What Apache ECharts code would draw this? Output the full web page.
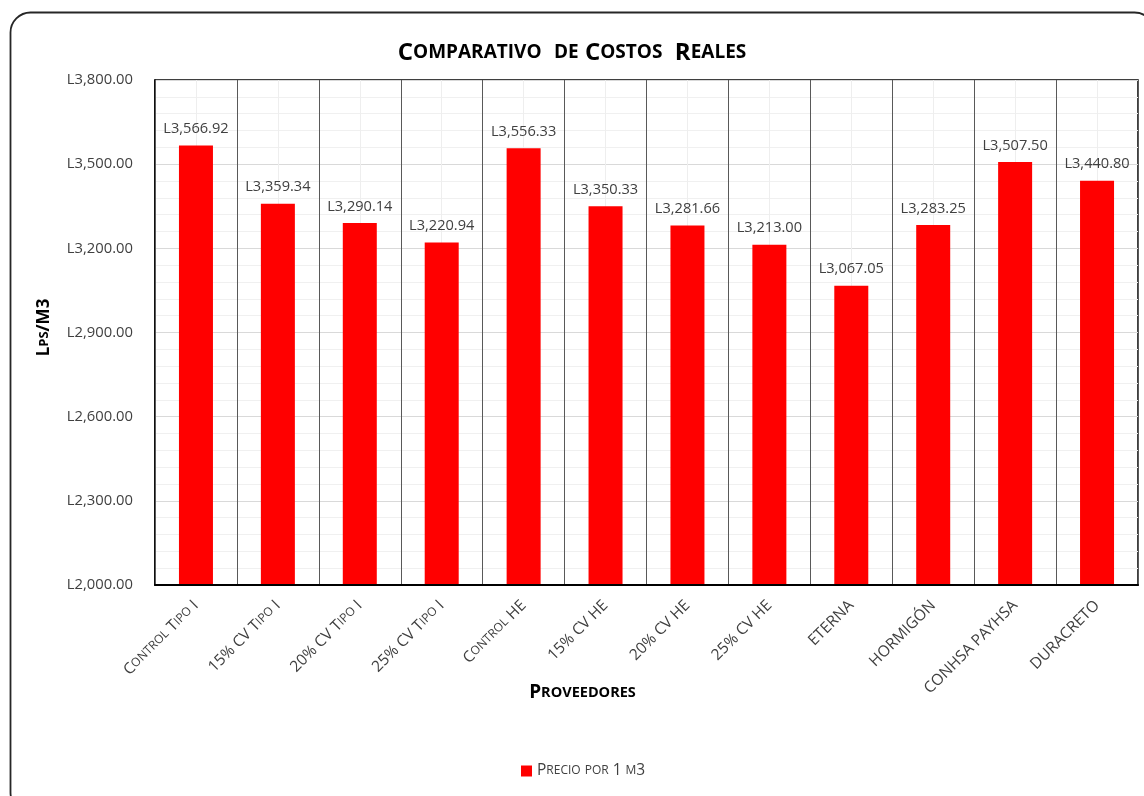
<!DOCTYPE html>
<html>
<head>
<meta charset="utf-8">
<script src="https://cdn.jsdelivr.net/npm/echarts@6/dist/echarts.min.js"></script>
<style>
html,body{margin:0;padding:0;background:#fff;}
#chart{width:1144px;height:796px;}
</style>
</head>
<body>
<div id="chart"></div>
<script>
const titleText = 'Comparativo  de Costos  Reales';
const xAxisTitle = 'Proveedores';
const yAxisTitle = 'Lps/M3';
const seriesName = 'Precio por 1 m3';
const categories = ['Control Tipo I', '15% CV Tipo I', '20% CV Tipo I', '25% CV Tipo I', 'Control HE', '15% CV HE', '20% CV HE', '25% CV HE', 'ETERNA', 'HORMIGÓN', 'CONHSA PAYHSA', 'DURACRETO'];
const values = [3566.92, 3359.34, 3290.14, 3220.94, 3556.33, 3350.33, 3281.66, 3213.00, 3067.05, 3283.25, 3507.50, 3440.80];
const yMin = 2000, yMax = 3800, yStep = 300;

const FONT = '"Open Sans", "Noto Sans", sans-serif';

// small caps via rich text: lowercase letters become smaller uppercase
function smallCaps(str) {
  let out = '';
  let cur = null, buf = '';
  for (const ch of str) {
    const isLower = ch !== ch.toUpperCase();
    const st = isLower ? 's' : 'b';
    if (cur !== null && st !== cur) { out += '{' + cur + '|' + buf + '}'; buf = ''; }
    cur = st; buf += isLower ? ch.toUpperCase() : ch;
  }
  if (buf) out += '{' + cur + '|' + buf + '}';
  return out;
}
function money(v) {
  const parts = v.toFixed(2).split('.');
  parts[0] = parts[0].replace(/\B(?=(\d{3})+(?!\d))/g, ',');
  return 'L' + parts.join('.');
}
function rich(big, small, weight, color) {
  return {
    b: {fontSize: big, fontFamily: FONT, fontWeight: weight, color: color},
    s: {fontSize: small, fontFamily: FONT, fontWeight: weight, color: color}
  };
}

const chart = echarts.init(document.getElementById('chart'), null, {renderer: 'canvas'});
chart.setOption({
  backgroundColor: '#fff',
  animation: false,
  graphic: [{
    type: 'rect', left: 8, top: 10, z: -10,
    shape: {width: 1144, height: 800, r: 20},
    style: {fill: 'none', stroke: '#262626', lineWidth: 1.8}
  }],
  title: {
    text: smallCaps(titleText), left: 'center', top: 36,
    textStyle: {rich: rich(24, 19, 'bold', '#000')}
  },
  legend: {
    bottom: 12, left: 516, itemWidth: 11, itemHeight: 11, icon: 'rect', itemGap: 4,
    formatter: function (n) { return smallCaps(n); },
    textStyle: {rich: rich(15.5, 12, 'normal', '#404040')}
  },
  grid: {left: 155, right: 6, top: 80, bottom: 211, show: true, borderColor: '#000', borderWidth: 1.5, containLabel: false},
  xAxis: [{
    type: 'category', data: categories, boundaryGap: true, z: 3,
    name: smallCaps(xAxisTitle), nameLocation: 'middle', nameGap: 98, nameMoveOverlap: false,
    nameTextStyle: {rich: rich(19, 14.5, 'bold', '#000'), padding: [0, 128, 0, 0]},
    axisLine: {show: true, lineStyle: {color: '#000', width: 2}},
    axisTick: {show: false},
    splitLine: {show: true, lineStyle: {color: '#595959', width: 1}},
    axisLabel: {
      rotate: 45, margin: 18, interval: 0,
      formatter: function (v) { return smallCaps(v); },
      rich: rich(15.5, 12, 'normal', '#404040')
    }
  }, {
    type: 'value', min: 0, max: categories.length, interval: 1, position: 'top',
    axisLine: {show: false}, axisTick: {show: false}, axisLabel: {show: false},
    splitLine: {show: false},
    minorTick: {show: false, splitNumber: 2},
    minorSplitLine: {show: true, lineStyle: {color: '#eeeeee', width: 1}}
  }],
  yAxis: {
    type: 'value', min: yMin, max: yMax, interval: yStep,
    name: smallCaps(yAxisTitle), nameLocation: 'middle', nameGap: 102, nameRotate: 90, nameMoveOverlap: false,
    nameTextStyle: {rich: rich(17, 13, 'bold', '#000'), padding: [0, 0, 0, 10]},
    axisLine: {show: true, lineStyle: {color: '#000', width: 1.5}},
    axisTick: {show: false},
    axisLabel: {
      margin: 22, color: '#404040', fontSize: 14.8, fontFamily: FONT,
      formatter: function (v) { return money(v); }
    },
    splitLine: {show: true, lineStyle: {color: '#d9d9d9', width: 1}},
    minorTick: {show: false, splitNumber: 5},
    minorSplitLine: {show: true, lineStyle: {color: '#f0f0f0', width: 1}}
  },
  series: [{
    name: seriesName, type: 'bar', data: values, barWidth: 34,
    itemStyle: {color: '#ff0000'},
    label: {
      show: true, position: 'top', distance: 9,
      color: '#404040', fontSize: 14.6, fontFamily: FONT,
      formatter: function (p) { return money(p.value); }
    }
  }]
});
</script>
</body>
</html>
